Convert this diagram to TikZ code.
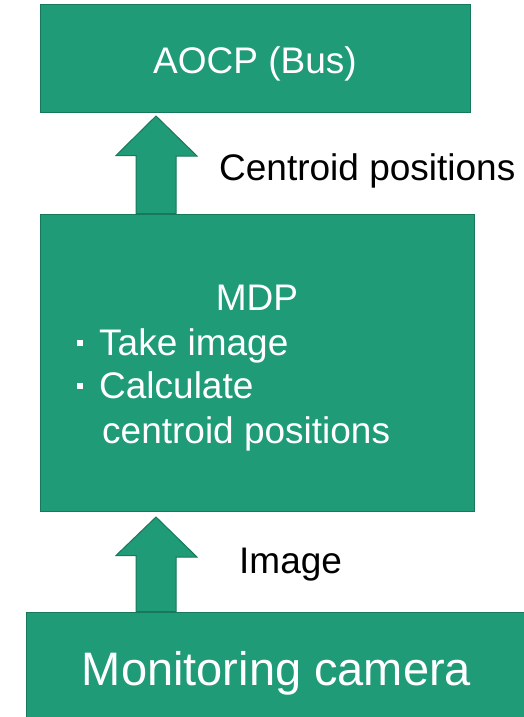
\documentclass[tikz,border=0pt]{standalone}
\usepackage{fontspec}
\setmainfont{Liberation Sans}
\definecolor{boxfill}{RGB}{31,155,120}
\definecolor{boxline}{RGB}{24,120,90}
\begin{document}
\begin{tikzpicture}[x=1pt,y=-1pt,
  box/.style={draw=boxline,fill=boxfill,line width=1pt,rectangle,inner sep=0pt},
  wtext/.style={text=white,font=\fontsize{37}{44}\selectfont,inner sep=0pt},
  btext/.style={text=black,font=\fontsize{37}{44}\selectfont,inner sep=0pt,anchor=base west},
  blockarrow/.style={draw=boxline,fill=boxfill,line width=1pt,line join=miter}]
\useasboundingbox (0,0) rectangle (523,717);
% boxes
\node[box,minimum width=430pt,minimum height=107pt] (aocp) at (255,58.5) {};
\node[wtext,anchor=base] (aocpt) at (255,74) {AOCP (Bus)};
\node[box,minimum width=434pt,minimum height=297pt] (mdp) at (257,362.5) {};
\node[wtext,anchor=base] (mdpt) at (257,310) {MDP};
\node[wtext,anchor=base west] (b1) at (77,355) {\raisebox{9pt}{\rule{6pt}{6pt}}};
\node[wtext,anchor=base west] (l1) at (99,355) {Take image};
\node[wtext,anchor=base west] (b2) at (77,398) {\raisebox{9pt}{\rule{6pt}{6pt}}};
\node[wtext,anchor=base west] (l2) at (99,398) {Calculate};
\node[wtext,anchor=base west] (l3) at (102,443) {centroid positions};
\node[box,minimum width=501pt,minimum height=128pt] (cam) at (276.5,676) {};
\node[wtext,anchor=base,font=\fontsize{47}{56}\selectfont] (camt) at (276.5,685) {Monitoring camera};
% labels
\node[btext] (lab1) at (219,180) {Centroid positions};
\node[btext] (lab2) at (239,573) {Image};
% block arrows
\coordinate (sL) at (136,0);
\coordinate (sR) at (176,0);
\coordinate (t1) at (156,116);
\coordinate (t2) at (156,517);
\draw[blockarrow] (t1) -- ++(41,40) -- ++(-21,0) -- (mdp.north -| sR) -- (mdp.north -| sL) -- ++(0,-58) -- ++(-20,0) -- cycle;
\draw[blockarrow] (t2) -- ++(41,40) -- ++(-21,0) -- (cam.north -| sR) -- (cam.north -| sL) -- ++(0,-56) -- ++(-20,0) -- cycle;
\end{tikzpicture}
\end{document}
